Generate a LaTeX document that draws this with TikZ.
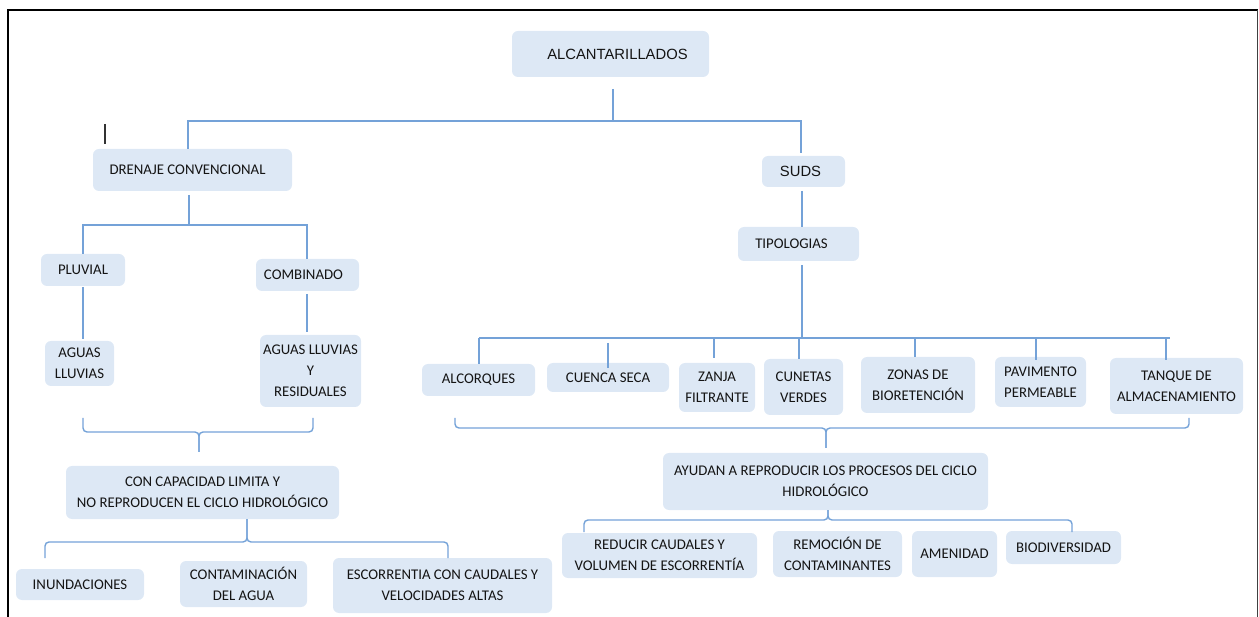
\documentclass[tikz,border=0pt]{standalone}
\usepackage{fontspec}
\setmainfont{Carlito}
\newfontfamily\arialf{Liberation Sans}
\usetikzlibrary{calc}
\definecolor{boxfill}{RGB}{221,232,245}
\definecolor{linec}{RGB}{116,162,216}
\definecolor{txt}{RGB}{20,20,20}
\tikzset{
  box/.style={fill=boxfill, rounded corners=6pt, inner sep=0pt, align=center, text=txt,
    font=\fontsize{14.8}{21}\selectfont},
  conn/.style={draw=linec, line width=1.4pt},
  brace/.style={draw=linec, line width=1.4pt, rounded corners=4pt},
  frameline/.style={draw=black, line width=2pt}
}
\newcommand{\bx}[6]{\node[box, minimum width=#4, minimum height=#5] (#1) at (#2,#3) {#6};}
\begin{document}
\begin{tikzpicture}[x=1pt,y=-1pt]
\useasboundingbox (0,0) rectangle (1259,617);
% frame
\coordinate (fTL) at (8,10);
\coordinate (fTR) at (1257.5,10);
\coordinate (fBL) at (8,617);
\coordinate (fBR) at (1257.5,617);
\draw[frameline] (fBL) -- (fTL) -- (fTR);
\draw[draw=black!75, line width=1.2pt] (fTR) -- (fBR);
% cursor tick
\coordinate (k1) at (105,124);
\coordinate (k2) at (105,144);
\draw[black!80, line width=1.3pt] (k1) -- (k2);

% nodes
\node[box, minimum width=197, minimum height=46, font=\arialf\fontsize{14.8}{21}\selectfont] (alc) at (610.5,54) {\hspace*{14pt}ALCANTARILLADOS};
\bx{dren}{192.5}{170}{199}{42}{DRENAJE CONVENCIONAL\hspace*{10pt}}
\node[box, minimum width=83, minimum height=31, font=\arialf\fontsize{14.8}{21}\selectfont] (suds) at (803.5,171.5) {SUDS\hspace*{6pt}};
\bx{tipo}{798.5}{244}{121}{34}{TIPOLOGIAS\hspace*{14pt}}
\bx{alcor}{478.5}{380}{113}{32}{ALCORQUES}
\bx{cuenca}{608}{377.5}{122}{29}{CUENCA SECA}
\bx{zanja}{717}{387.5}{76}{49}{ZANJA\\FILTRANTE}
\bx{cunetas}{803.5}{387}{79}{56}{CUNETAS\\VERDES}
\bx{zonas}{918}{385}{114}{56}{ZONAS DE\\BIORETENCIÓN}
\bx{pavim}{1040.5}{382}{91}{50}{PAVIMENTO\\PERMEABLE}
\bx{tanque}{1176.5}{386}{133}{56}{TANQUE DE\\ALMACENAMIENTO}
\bx{ayudan}{825.5}{481.5}{325}{57}{AYUDAN A REPRODUCIR LOS PROCESOS DEL CICLO\\HIDROLÓGICO}
\bx{reducir}{659.5}{555.5}{195}{45}{REDUCIR CAUDALES Y\\VOLUMEN DE ESCORRENTÍA}
\bx{remoc}{837.5}{554}{129}{46}{REMOCIÓN DE\\CONTAMINANTES}
\bx{amen}{954.5}{554}{85}{46}{AMENIDAD}
\bx{biodiv}{1063.5}{547.5}{115}{33}{BIODIVERSIDAD}
\bx{pluvial}{83}{270}{84}{32}{PLUVIAL}
\bx{combi}{307.5}{275}{103}{32}{COMBINADO\hspace*{8pt}}
\bx{aguasl}{79.5}{363.5}{69}{45}{AGUAS\\LLUVIAS}
\bx{aguasr}{310.5}{371}{101}{72}{AGUAS LLUVIAS\\Y\\RESIDUALES}
\bx{capac}{202.5}{492.5}{273}{53}{CON CAPACIDAD LIMITA Y\\NO REPRODUCEN EL CICLO HIDROLÓGICO}
\bx{inund}{80}{584.5}{128}{31}{INUNDACIONES}
\bx{contam}{243.5}{584}{127}{46}{CONTAMINACIÓN\\DEL AGUA}
\bx{escor}{442.5}{585.5}{219}{55}{ESCORRENTIA CON CAUDALES Y\\VELOCIDADES ALTAS}

% top level
\coordinate (a0) at (613,89);
\coordinate (aL) at (188,121);
\coordinate (aR) at (801,121);
\coordinate (aS) at (801,153);
\draw[conn] (a0) -- (a0 |- aL);
\draw[conn] (dren.north -| aL) -- (aL) -- (aR) -- (aS);

% left: drenaje -> pluvial / combinado
\coordinate (d0) at (189,195);
\coordinate (dL) at (83,225);
\coordinate (dR) at (307,225);
\draw[conn] (d0) -- (d0 |- dL);
\draw[conn] (pluvial.north -| dL) -- (dL) -- (dR) -- (combi.north -| dR);
\coordinate (p0) at (83,287);
\coordinate (p1) at (83,339);
\draw[conn] (p0) -- (p1);
\coordinate (q0) at (307,294);
\coordinate (q1) at (307,332);
\draw[conn] (q0) -- (q1);

% brace under aguas
\coordinate (bl1) at (83,418);
\coordinate (bl2) at (313,418);
\coordinate (blm) at (199,432);
\coordinate (blt) at (199,452);
\draw[brace] (bl1) |- (blm) -- (blt);
\draw[brace] (bl2) |- (blm) -- (blt);

% brace under capacidad
\coordinate (cm) at (247,542);
\coordinate (cl) at (45,558);
\coordinate (cr) at (448,558);
\draw[brace] (capac.south -| cm) -- (cm) -| (cl);
\draw[brace] (capac.south -| cm) -- (cm) -| (cr);

% right: suds -> tipologias
\coordinate (s0) at (802,191);
\draw[conn] (s0) -- (s0 |- tipo.north);
\coordinate (t0) at (802,265);
\coordinate (tb) at (802,338);
\coordinate (tbL) at (479,338);
\coordinate (tbR) at (1170,338);
\draw[conn] (t0) -- (tb);
\draw[conn] (tbL) -- (tbR);
\draw[conn] (tbL) -- (tbL |- alcor.north);
\coordinate (c2) at (608,343);
\coordinate (c2b) at (608,368);
\draw[conn] (c2) -- (c2b);
\coordinate (c3) at (714,338);
\coordinate (c3b) at (714,358);
\draw[conn] (c3) -- (c3b);
\coordinate (c4) at (799,338);
\draw[conn] (c4) -- (c4 |- cunetas.north);
\coordinate (c5) at (915,338);
\draw[conn] (c5) -- (c5 |- zonas.north);
\coordinate (c6) at (1036,338);
\coordinate (c6b) at (1036,360);
\draw[conn] (c6) -- (c6b);
\coordinate (c7) at (1166,338);
\coordinate (c7b) at (1166,360);
\draw[conn] (c7) -- (c7b);

% brace under tipologias row
\coordinate (rl) at (455,418);
\coordinate (rr) at (1189,418);
\coordinate (rm) at (826,428);
\coordinate (rt) at (826,448);
\draw[brace] (rl) |- (rm) -- (rt);
\draw[brace] (rr) |- (rm) -- (rt);

% ayudan -> outcomes
\coordinate (ym) at (828,520);
\coordinate (yl) at (584,532);
\coordinate (yr) at (1072,532);
\draw[brace] (ayudan.south -| ym) -- (ym) -| (yl);
\draw[brace] (ayudan.south -| ym) -- (ym) -| (yr);
\end{tikzpicture}
\end{document}
